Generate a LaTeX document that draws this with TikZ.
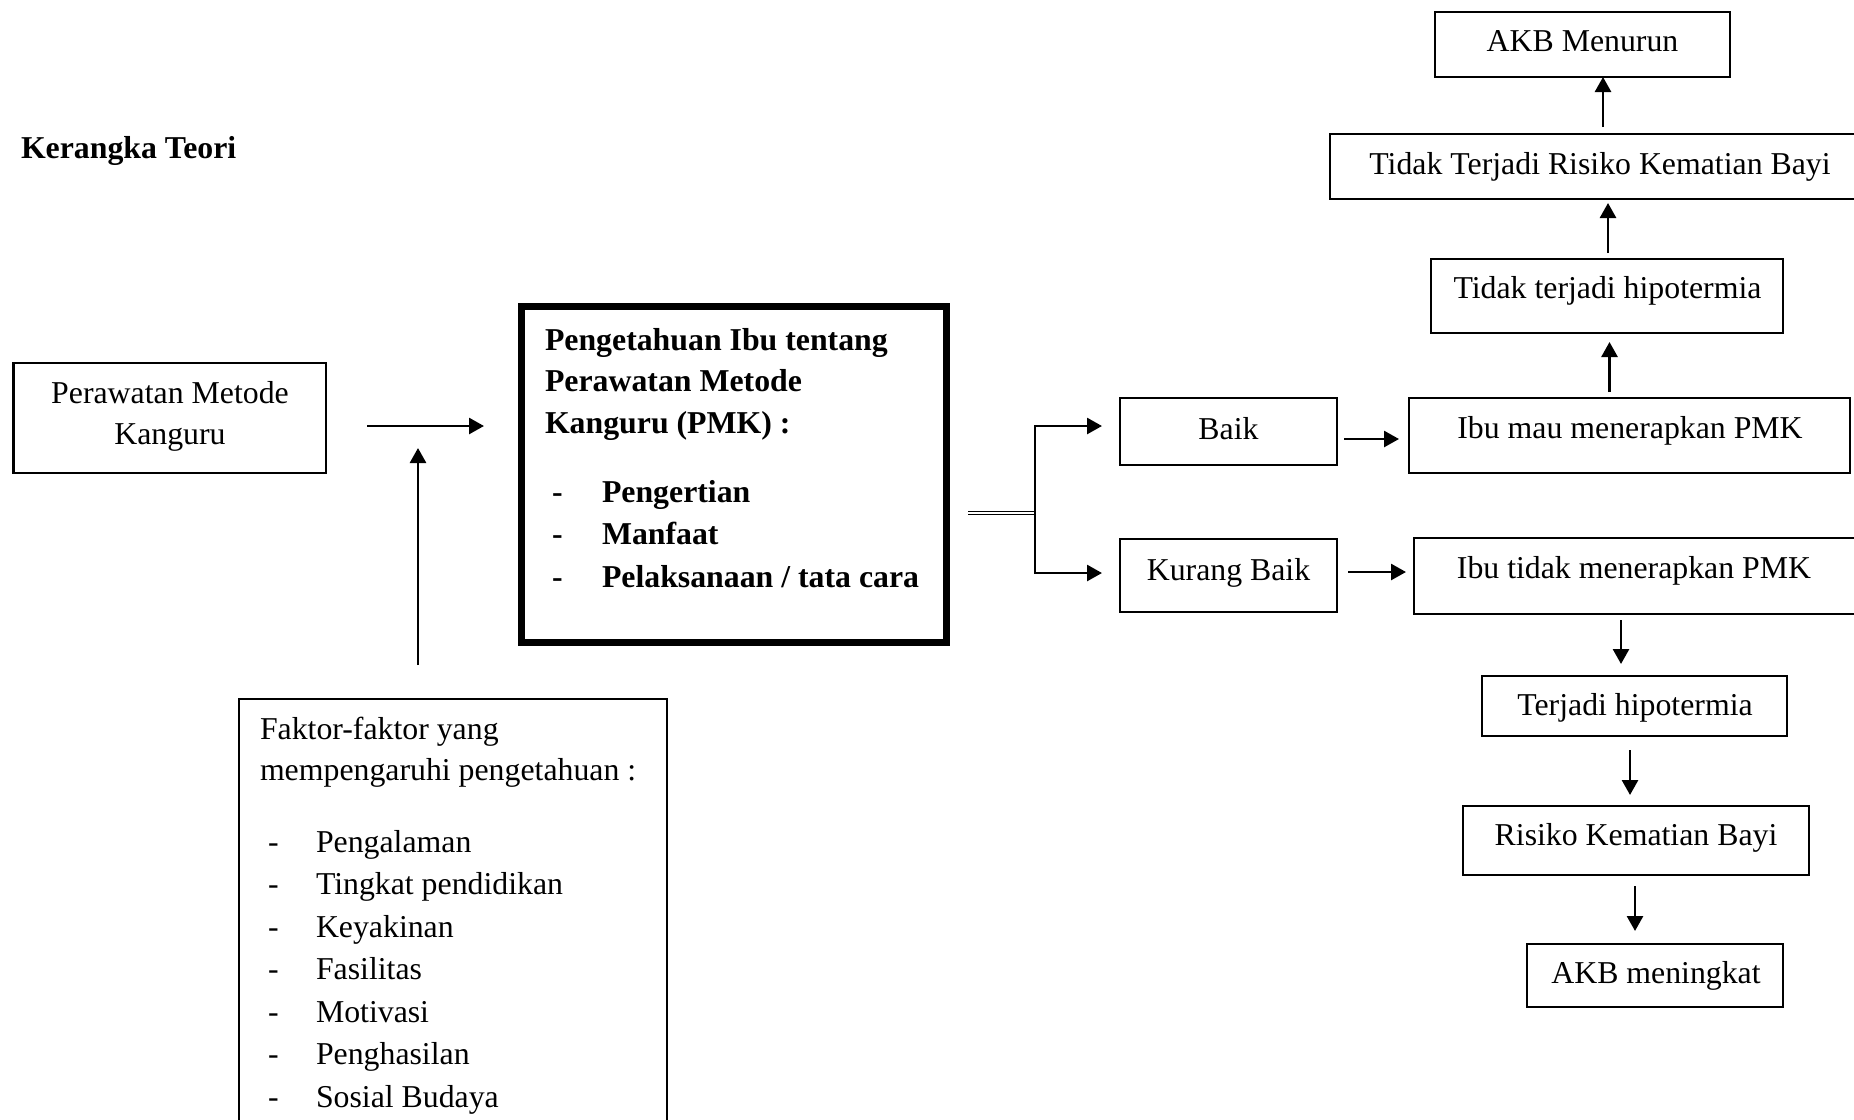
\documentclass[tikz,border=0pt]{standalone}
\usepackage{fontspec}
\setmainfont{Liberation Serif}
\usetikzlibrary{arrows.meta,calc}
\begin{document}
\begin{tikzpicture}[x=1pt,y=-1pt,
  every node/.style={inner sep=0pt, outer sep=0pt, font=\fontsize{31.8}{42.5}\selectfont},
  box/.style={draw, line width=2.1pt, rectangle, anchor=north west},
  txt/.style={anchor=base},
  ltxt/.style={anchor=base west},
  bold/.style={font=\fontsize{31.8}{42.5}\selectfont\bfseries},
  arr/.style={line width=2.7pt, -{Triangle[length=15pt,width=16pt]}},
  dbl/.style={double, line width=1.5pt, double distance=1.4pt},
]
\useasboundingbox (0,0) rectangle (1854,1119);
\clip (0,0) rectangle (1854,1119);

% title
\node[ltxt, bold] (title) at (21,158) {Kerangka Teori};

% boxes
\node[box, minimum width=312.5pt, minimum height=110pt] (perawatan) at (13.5,363) {};
\node[box, line width=7pt, minimum width=425pt, minimum height=336pt] (pmk) at (521,306) {};
\node[box, minimum width=428pt, minimum height=500pt] (faktor) at (239,699) {};
\node[box, minimum width=217pt, minimum height=67pt] (baik) at (1120,398) {};
\node[box, minimum width=217pt, minimum height=73pt] (kurang) at (1120,539) {};
\node[box, minimum width=441pt, minimum height=75pt] (ibumau) at (1409,398) {};
\node[box, minimum width=480pt, minimum height=76pt] (ibutidak) at (1414,538) {};
\node[box, minimum width=352pt, minimum height=74pt] (tth) at (1431,259) {};
\node[box, minimum width=560pt, minimum height=65pt] (ttr) at (1330,134) {};
\node[box, minimum width=295pt, minimum height=65pt] (akbtop) at (1435,12) {};
\node[box, minimum width=305pt, minimum height=60pt] (terjadi) at (1482,676) {};
\node[box, minimum width=346pt, minimum height=69pt] (risiko) at (1463,806) {};
\node[box, minimum width=256pt, minimum height=63pt] (akbm) at (1527,944) {};

% box texts
\node[txt] (perawatan1) at (170,403) {Perawatan Metode};
\node[txt] (perawatan2) at (170,444) {Kanguru};
\node[ltxt, bold] (pmk1) at (545,350) {Pengetahuan Ibu tentang};
\node[ltxt, bold] (pmk2) at (545,391) {Perawatan Metode};
\node[ltxt, bold] (pmk3) at (545,433) {Kanguru (PMK) :};
\foreach \t [count=\i from 0] in {Pengertian, Manfaat, Pelaksanaan / tata cara} {
  \node[ltxt, bold] (pmkd\i) at (552,{502+42.5*\i}) {-};
  \node[ltxt, bold] (pmki\i) at (602,{502+42.5*\i}) {\t};
}
\node[ltxt] (faktor1) at (260,739) {Faktor-faktor yang};
\node[ltxt] (faktor2) at (260,780) {mempengaruhi pengetahuan :};
\foreach \t [count=\i from 0] in {Pengalaman, Tingkat pendidikan, Keyakinan, Fasilitas, Motivasi, Penghasilan, Sosial Budaya} {
  \node[ltxt] (fd\i) at (268,{852+42.5*\i}) {-};
  \node[ltxt] (fi\i) at (316,{852+42.5*\i}) {\t};
}
\node[txt] (baik-t) at (1228.5,439) {Baik};
\node[txt] (kurang-t) at (1228.5,580) {Kurang Baik};
\node[txt] (ibumau-t) at (1630,438) {Ibu mau menerapkan PMK};
\node[txt] (ibutidak-t) at (1634,578) {Ibu tidak menerapkan PMK};
\node[txt] (tth-t) at (1607.5,298) {Tidak terjadi hipotermia};
\node[txt] (ttr-t) at (1600,174) {Tidak Terjadi Risiko Kematian Bayi};
\node[txt] (akbtop-t) at (1582.5,51) {AKB Menurun};
\node[txt] (terjadi-t) at (1635,715) {Terjadi hipotermia};
\node[txt] (risiko-t) at (1636,845) {Risiko Kematian Bayi};
\node[txt] (akbm-t) at (1656,983) {AKB meningkat};

% helper coordinates
\coordinate (y426) at (0,426);
\coordinate (join) at (418,448);
\coordinate (br) at (1035,513);
\coordinate (brt) at (1035,426);
\coordinate (brb) at (1035,573);
\coordinate (y439) at (0,439);
\coordinate (y572) at (0,572);
\coordinate (xa) at (1609.5,0);
\coordinate (xb) at (1608,0);
\coordinate (xc) at (1603,0);
\coordinate (xd) at (1621,0);
\coordinate (xe) at (1630,0);
\coordinate (xf) at (1635,0);

% connectors
\draw[arr, shorten <=41pt, shorten >=37pt] (perawatan.east |- y426) -- (pmk.west |- y426);
\draw[arr, shorten <=34pt] (faktor.north -| join) -- (join);
\draw[dbl, shorten <=22pt] (pmk.east |- br) -- (br);
\draw[arr, shorten >=18pt] (br) -- (brt) -- (baik.west |- brt);
\draw[arr, shorten >=18pt] (br) -- (brb) -- (kurang.west |- brb);
\draw[arr, shorten <=7pt, shorten >=10pt] (baik.east |- y439) -- (ibumau.west |- y439);
\draw[arr, shorten <=11pt, shorten >=8pt] (kurang.east |- y572) -- (ibutidak.west |- y572);
\draw[arr, shorten <=6pt, shorten >=9pt] (ibumau.north -| xa) -- (tth.south -| xa);
\draw[arr, shorten <=6pt, shorten >=4pt] (tth.north -| xb) -- (ttr.south -| xb);
\draw[arr, shorten <=7pt] (ttr.north -| xc) -- (akbtop.south -| xc);
\draw[arr, shorten <=6pt, shorten >=12pt] (ibutidak.south -| xd) -- (terjadi.north -| xd);
\draw[arr, shorten <=14pt, shorten >=11pt] (terjadi.south -| xe) -- (risiko.north -| xe);
\draw[arr, shorten <=11pt, shorten >=13pt] (risiko.south -| xf) -- (akbm.north -| xf);
\end{tikzpicture}
\end{document}
